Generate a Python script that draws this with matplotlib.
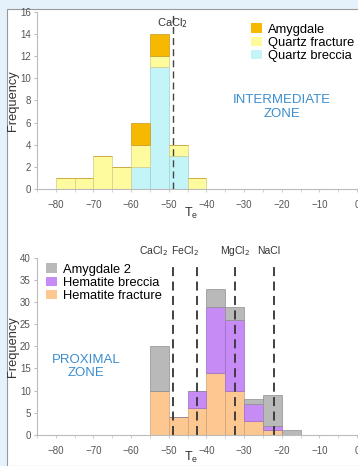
import numpy as np
import matplotlib.pyplot as plt
from matplotlib.patches import Rectangle, Patch

plt.rcParams['font.family'] = ['Liberation Sans', 'DejaVu Sans']

# bin left edges (Te, width 5)
bins_top = [-80, -75, -70, -65, -60, -55, -50, -45]
quartz_breccia = [0, 0, 0, 0, 2, 11, 3, 0]
quartz_fracture = [1, 1, 3, 2, 2, 1, 1, 1]
amygdale = [0, 0, 0, 0, 2, 2, 0, 0]

bins_bot = [-55, -50, -45, -40, -35, -30, -25, -20]
hematite_fracture = [10, 4, 6, 14, 10, 3, 1, 0]
hematite_breccia = [0, 0, 4, 15, 16, 4, 1, 0]
amygdale2 = [10, 0, 0, 4, 3, 1, 7, 1]

# eutectic temperatures and where their labels sit
eut_names = ['CaCl$_2$', 'FeCl$_2$', 'MgCl$_2$', 'NaCl']
eut_te = [-49, -42.5, -32.5, -22]
eut_label_x = [-54, -45.6, -32.5, -23.5]

c_amy = '#f6b800'
c_qf = '#fdfb9e'
c_qb = '#c3f4f8'
c_am2 = '#b9b9b9'
c_hb = '#c68bf4'
c_hf = '#fcc790'
zone_col = '#3a8ed0'
tick_col = '#555555'

fig = plt.figure(figsize=(3.58, 4.66), dpi=100)
fig.patch.set_facecolor('#e6f2fb')
panel = Rectangle((7 / 358, 0), 1, 1 - 9 / 466, transform=fig.transFigure,
                  facecolor='white', edgecolor='#9a9a9a', lw=0.8, zorder=-10)
fig.patches.append(panel)


def stack(ax, x, layers):
    bottom = np.zeros(len(x))
    for vals, col, edge in layers:
        vals = np.array(vals, dtype=float)
        ax.bar(x, vals, width=5, bottom=bottom, align='edge', color=col,
               edgecolor=edge, linewidth=0.5, zorder=2)
        bottom += vals


def style(ax, ymax, ystep):
    ax.set_xlim(-85, 0)
    ax.set_ylim(0, ymax)
    ax.patch.set_visible(False)
    for s in ['top', 'right']:
        ax.spines[s].set_visible(False)
    for s in ['left', 'bottom']:
        ax.spines[s].set_color('#bbbbbb')
        ax.spines[s].set_linewidth(0.8)
    ax.set_xticks(np.arange(-80, 1, 10))
    ax.set_xticks(np.arange(-85, 1, 5), minor=True)
    ax.set_yticks(np.arange(0, ymax + 1, ystep))
    ax.tick_params(axis='x', which='both', length=2, color='#cccccc', labelsize=7,
                   labelcolor=tick_col, pad=6)
    ax.tick_params(axis='y', length=2.5, color='#bbbbbb', labelsize=7,
                   labelcolor=tick_col, pad=2)
    ax.set_ylabel('Frequency', fontsize=9.3, color='#333333', labelpad=1)


def legend(ax, handles, labels, x, y):
    ax.legend(handles, labels, loc='upper left', bbox_to_anchor=(x / 358, 1 - y / 466),
              bbox_transform=fig.transFigure, frameon=False, fontsize=9.3,
              handlelength=0.8, handleheight=0.8, handletextpad=0.45,
              labelspacing=0.05, borderpad=0)


ax1 = fig.add_axes([0.1034, 0.5944, 0.894, 0.380])
stack(ax1, bins_top, [(quartz_breccia, c_qb, '#9fcfd3'),
                      (quartz_fracture, c_qf, '#cfcc8a'),
                      (amygdale, c_amy, '#c99a20')])
style(ax1, 16, 2)
ax1.plot([eut_te[0], eut_te[0]], [0, 15.9], ls=(0, (5, 3)), color='#444444', lw=1, zorder=3)
ax1.text(eut_te[0], 15.0, eut_names[0], ha='center', va='center', fontsize=8,
         color='#333333', zorder=4)
ax1.text(-20, 7.4, 'INTERMEDIATE\nZONE', ha='center', va='center', fontsize=9.5,
         color=zone_col, linespacing=1.15)
ax1.set_xlabel('T$_\\mathregular{e}$', fontsize=9, color='#333333')
ax1.xaxis.set_label_coords(0.48, -0.136)
ax1.xaxis.label.set_va('center')
legend(ax1, [Patch(facecolor=c_amy, edgecolor='none'),
             Patch(facecolor=c_qf, edgecolor='none'),
             Patch(facecolor=c_qb, edgecolor='none')],
       ['Amygdale', 'Quartz fracture', 'Quartz breccia'], 245, 17)

ax2 = fig.add_axes([0.1034, 0.0672, 0.894, 0.379])
stack(ax2, bins_bot, [(hematite_fracture, c_hf, '#d0a070'),
                      (hematite_breccia, c_hb, '#9a6ac4'),
                      (amygdale2, c_am2, '#8f8f8f')])
style(ax2, 40, 5)
for name, te, lx in zip(eut_names, eut_te, eut_label_x):
    ax2.plot([te, te], [0, 38.6], ls=(0, (5, 3)), color='#333333', lw=1.3, zorder=3)
    ax2.text(lx, 41.5, name, ha='center', va='center', fontsize=7.5, color='#333333')
ax2.text(-72, 15.5, 'PROXIMAL\nZONE', ha='center', va='center', fontsize=9.5,
         color=zone_col, linespacing=1.15)
ax2.set_xlabel('T$_\\mathregular{e}$', fontsize=9, color='#333333')
ax2.xaxis.set_label_coords(0.48, -0.128)
ax2.xaxis.label.set_va('center')
legend(ax2, [Patch(facecolor=c_am2, edgecolor='none'),
             Patch(facecolor=c_hb, edgecolor='none'),
             Patch(facecolor=c_hf, edgecolor='none')],
       ['Amygdale 2', 'Hematite breccia', 'Hematite fracture'], 40, 257)

fig.savefig('out.png', dpi=100)
